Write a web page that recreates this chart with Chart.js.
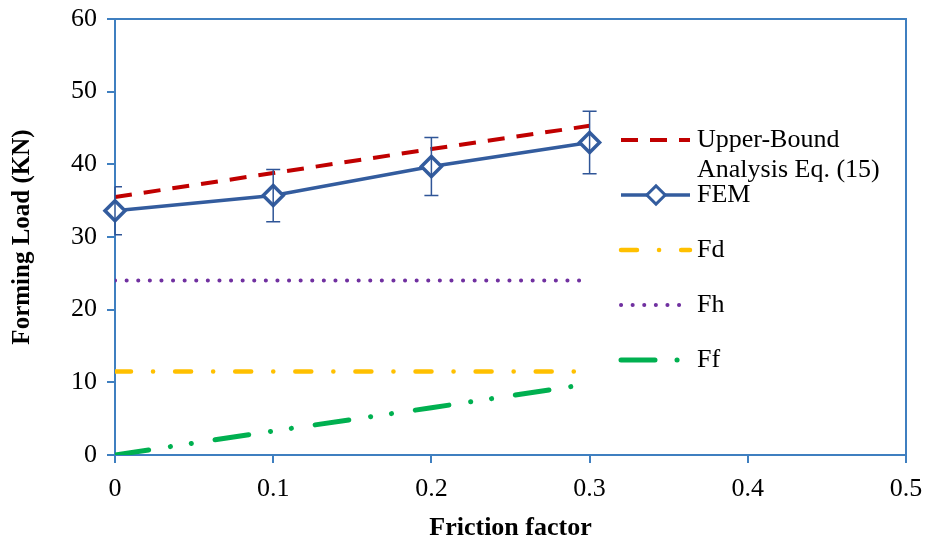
<!DOCTYPE html>
<html>
<head>
    <title>Forming Load vs Friction factor</title>
    <script src="https://cdn.jsdelivr.net/npm/chart.js"></script>
    <style>
        html, body { margin: 0; padding: 0; background: #fff; }
        #wrap { width: 925px; height: 540px; }
    </style>
</head>
<body>
    <div id="wrap"><canvas id="loadChart" width="925" height="540"></canvas></div>

    <script>
        // Dados
        const frictionFactor = [0, 0.1, 0.2, 0.3];
        const upperBound = [35.5, 38.8, 42.1, 45.3];
        const fem = [33.6, 35.7, 39.7, 43.0];
        const femError = [3.3, 3.6, 4.0, 4.3];
        const fd = [11.5, 11.5, 11.5, 11.5];
        const fh = [24, 24, 24, 24];
        const ff = [0, 3.3, 6.5, 9.8];
        const xTicks = [0, 0.1, 0.2, 0.3, 0.4, 0.5];
        const yTicks = [0, 10, 20, 30, 40, 50, 60];

        const legendLabels = [['Upper-Bound', 'Analysis Eq. (15)'], ['FEM'], ['Fd'], ['Fh'], ['Ff']];

        const axisColor = '#3f7fc0';
        const serif = "'Liberation Serif', 'Times New Roman', serif";

        function pts(ys) {
            return frictionFactor.map((x, i) => ({ x: x, y: ys[i] }));
        }

        // Barras de erro do FEM
        const errorBars = {
            id: 'errorBars',
            afterDatasetsDraw(chart) {
                const ctx = chart.ctx;
                const xs = chart.scales.x, ys = chart.scales.y;
                ctx.save();
                ctx.strokeStyle = '#2f5597';
                ctx.lineWidth = 1.5;
                frictionFactor.forEach((x, i) => {
                    const px = xs.getPixelForValue(x);
                    const top = ys.getPixelForValue(fem[i] + femError[i]);
                    const bot = ys.getPixelForValue(fem[i] - femError[i]);
                    const left = Math.max(px - 7, xs.left);
                    ctx.beginPath();
                    ctx.moveTo(px, top); ctx.lineTo(px, bot);
                    ctx.moveTo(left, top); ctx.lineTo(px + 7, top);
                    ctx.moveTo(left, bot); ctx.lineTo(px + 7, bot);
                    ctx.stroke();
                });
                ctx.restore();
            }
        };

        // Moldura (topo e direita)
        const frame = {
            id: 'frame',
            beforeDatasetsDraw(chart) {
                const a = chart.chartArea;
                const ctx = chart.ctx;
                ctx.save();
                ctx.strokeStyle = axisColor;
                ctx.lineWidth = 2;
                ctx.beginPath();
                ctx.moveTo(a.left - 8, a.top);
                ctx.lineTo(a.right, a.top);
                ctx.lineTo(a.right, a.bottom + 8);
                ctx.stroke();
                ctx.restore();
            }
        };

        // Legenda desenhada à direita
        const sideLegend = {
            id: 'sideLegend',
            afterDraw(chart) {
                const ctx = chart.ctx;
                const rows = [140, 195, 250, 305, 360];
                ctx.save();
                chart.data.datasets.forEach((ds, i) => {
                    const y = rows[i];
                    ctx.save();
                    ctx.strokeStyle = ds.borderColor;
                    ctx.lineWidth = ds.borderWidth;
                    ctx.lineCap = ds.borderCapStyle || 'butt';
                    ctx.setLineDash(ds.borderDash || []);
                    ctx.beginPath();
                    ctx.moveTo(621, y);
                    ctx.lineTo(690, y);
                    ctx.stroke();
                    ctx.restore();
                    if (ds.pointRadius > 0) {
                        ctx.save();
                        ctx.translate(656, y);
                        ctx.rotate(Math.PI / 4);
                        ctx.fillStyle = '#fff';
                        ctx.strokeStyle = ds.borderColor;
                        ctx.lineWidth = 3;
                        ctx.fillRect(-6.5, -6.5, 13, 13);
                        ctx.strokeRect(-6.5, -6.5, 13, 13);
                        ctx.restore();
                    }
                    ctx.fillStyle = '#000';
                    ctx.font = '26px ' + serif;
                    ctx.textBaseline = 'middle';
                    legendLabels[i].forEach((t, k) => {
                        ctx.fillText(t, 697, y + k * 30);
                    });
                });
                ctx.restore();
            }
        };

        const ctx = document.getElementById('loadChart').getContext('2d');
        const loadChart = new Chart(ctx, {
            type: 'line',
            data: {
                datasets: [
                    {
                        label: 'Upper-Bound Analysis Eq. (15)',
                        data: pts(upperBound),
                        borderColor: '#c00000',
                        borderWidth: 4,
                        borderDash: [17, 12],
                        pointRadius: 0,
                        order: 2
                    },
                    {
                        label: 'FEM',
                        data: pts(fem),
                        borderColor: '#335c9e',
                        borderWidth: 3.5,
                        pointStyle: 'rectRot',
                        pointRadius: 10,
                        pointBorderWidth: 3.5,
                        pointBackgroundColor: '#fff',
                        pointBorderColor: '#335c9e',
                        clip: false,
                        order: 1
                    },
                    {
                        label: 'Fd',
                        data: pts(fd),
                        borderColor: '#ffc000',
                        borderWidth: 4.5,
                        borderCapStyle: 'round',
                        borderDash: [16, 22, 0.1, 22],
                        pointRadius: 0,
                        order: 3
                    },
                    {
                        label: 'Fh',
                        data: pts(fh),
                        borderColor: '#7030a0',
                        borderWidth: 4,
                        borderCapStyle: 'round',
                        borderDash: [0.1, 11.5],
                        pointRadius: 0,
                        order: 4
                    },
                    {
                        label: 'Ff',
                        data: pts(ff),
                        borderColor: '#00b050',
                        borderWidth: 5,
                        borderCapStyle: 'round',
                        borderDash: [34, 22, 0.1, 21, 0.1, 24],
                        pointRadius: 0,
                        order: 5
                    }
                ]
            },
            options: {
                responsive: false,
                animation: false,
                layout: { padding: { top: 19, right: 19, left: 0, bottom: 0 } },
                plugins: {
                    legend: { display: false },
                    tooltip: { enabled: false }
                },
                scales: {
                    x: {
                        type: 'linear',
                        min: 0,
                        max: 0.5,
                        afterBuildTicks: (s) => { s.ticks = xTicks.map(v => ({ value: v })); },
                        afterFit: (s) => { s.height = 85; s.paddingLeft = 0; s.paddingRight = 0; },
                        border: { color: axisColor, width: 2 },
                        grid: { drawOnChartArea: false, drawTicks: true, tickLength: 8, color: axisColor, lineWidth: 2 },
                        ticks: {
                            color: '#000',
                            padding: 11,
                            font: { family: serif, size: 26 },
                            callback: (v) => String(v)
                        },
                        title: {
                            display: true,
                            text: 'Friction factor',
                            color: '#000',
                            padding: { top: 0, bottom: -4 },
                            font: { family: serif, size: 26, weight: 'bold' }
                        }
                    },
                    y: {
                        min: 0,
                        max: 60,
                        afterBuildTicks: (s) => { s.ticks = yTicks.map(v => ({ value: v })); },
                        afterFit: (s) => { s.width = 115; s.paddingTop = 0; s.paddingBottom = 0; },
                        border: { color: axisColor, width: 2 },
                        grid: { drawOnChartArea: false, drawTicks: true, tickLength: 8, color: axisColor, lineWidth: 2 },
                        ticks: {
                            color: '#000',
                            padding: 10,
                            font: { family: serif, size: 26 }
                        },
                        title: {
                            display: true,
                            text: 'Forming Load (KN)',
                            color: '#000',
                            padding: { top: 8 },
                            font: { family: serif, size: 25, weight: 'bold' }
                        }
                    }
                }
            },
            plugins: [frame, errorBars, sideLegend]
        });
    </script>
</body>
</html>
